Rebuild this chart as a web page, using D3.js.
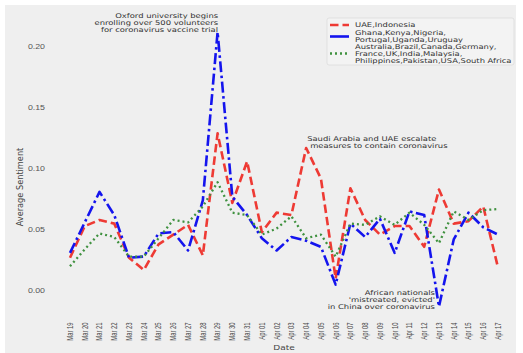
<!DOCTYPE html>
<html>
<head>
<meta charset="utf-8">
<script src="https://cdn.jsdelivr.net/npm/d3@7"></script>
<style>
  html, body { margin: 0; padding: 0; background: #ffffff; }
  svg { display: block; font-family: "DejaVu Sans", sans-serif; }
</style>
</head>
<body>
<svg id="chart" width="523" height="353"></svg>
<script>
// Daily average sentiment per country group, 19 March – 17 April
const dates = [
  "Mar 19","Mar 20","Mar 21","Mar 22","Mar 23","Mar 24","Mar 25","Mar 26","Mar 27","Mar 28",
  "Mar 29","Mar 30","Mar 31","Apr 01","Apr 02","Apr 03","Apr 04","Apr 05","Apr 06","Apr 07",
  "Apr 08","Apr 09","Apr 10","Apr 11","Apr 12","Apr 13","Apr 14","Apr 15","Apr 16","Apr 17"
];

const uaeIndonesia = [
  0.026, 0.052, 0.057, 0.054, 0.026, 0.016, 0.037, 0.045, 0.053, 0.028,
  0.128, 0.071, 0.105, 0.047, 0.063, 0.061, 0.116, 0.091, 0.009, 0.083,
  0.057, 0.045, 0.052, 0.052, 0.035, 0.082, 0.054, 0.056, 0.068, 0.018
];

const ghanaGroup = [
  0.030, 0.055, 0.080, 0.061, 0.026, 0.027, 0.046, 0.047, 0.032, 0.073,
  0.211, 0.076, 0.061, 0.042, 0.032, 0.043, 0.040, 0.035, 0.004, 0.054,
  0.043, 0.058, 0.030, 0.064, 0.061, -0.014, 0.041, 0.063, 0.051, 0.045
];

const australiaGroup = [
  0.019, 0.033, 0.046, 0.043, 0.027, 0.027, 0.042, 0.057, 0.055, 0.068,
  0.088, 0.063, 0.061, 0.045, 0.050, 0.060, 0.042, 0.045, 0.027, 0.054,
  0.053, 0.060, 0.053, 0.063, 0.053, 0.038, 0.064, 0.057, 0.065, 0.066
];

const yTicks = [0.00, 0.05, 0.10, 0.15, 0.20];

const seriesNames = [
  ["UAE,Indonesia"],
  ["Ghana,Kenya,Nigeria,", "Portugal,Uganda,Uruguay"],
  ["Australia,Brazil,Canada,Germany,", "France,UK,India,Malaysia,", "Philippines,Pakistan,USA,South Africa"]
];

const annotations = [
  { date: "Mar 29", lines: ["Oxford university begins", "enrolling over 500 volunteers", "for coronavirus vaccine trial"] },
  { date: "Apr 04", lines: ["Saudi Arabia and UAE escalate", "measures to contain coronavirus"] },
  { date: "Apr 13", lines: ["African nationals", "'mistreated, evicted'", "in China over coronavirus"] }
];

const series = [
  { values: uaeIndonesia,   color: "#ee3a34", width: 2.6, dash: "8.5,4" },
  { values: ghanaGroup,     color: "#1414ee", width: 2.6, dash: "11,3.5,2.5,3.5" },
  { values: australiaGroup, color: "#3f913f", width: 2.3, dash: "2,3" }
];

const svg = d3.select("#chart");
const squash = 0.78;   // vertical compression of the figure's lettering
const textColor = "#333333";

// figure background
svg.append("rect").attr("x", 5).attr("y", 5).attr("width", 511).attr("height", 348)
  .attr("fill", "#efefef");

const x = d3.scalePoint().domain(dates).range([70, 498]);
const y = d3.scaleLinear().domain([0, 0.2]).range([289.5, 45.5]);

// text helper: horizontal or rotated, with the figure's vertical compression
function label(g, px, py, str, opts) {
  const o = Object.assign({ size: 8.4, anchor: "start", rotate: false, k: squash, fill: textColor }, opts);
  return g.append("text")
    .attr("transform", `translate(${px},${py}) scale(1,${o.k})` + (o.rotate ? " rotate(-90)" : ""))
    .attr("text-anchor", o.anchor)
    .attr("font-size", o.size)
    .attr("fill", o.fill)
    .text(str);
}

// y axis
const yAxis = svg.append("g").attr("transform", "translate(47,0)")
  .call(d3.axisLeft(y).tickValues(yTicks).tickFormat(d3.format(".2f")).tickSize(0).tickPadding(0));
yAxis.select(".domain").remove();
yAxis.selectAll(".tick text").remove();
yAxis.selectAll(".tick").each(function (d) {
  label(d3.select(this), -2, 2.5, d3.format(".2f")(d), { size: 8.8, anchor: "end", fill: "#555555" });
});

// x axis
const xAxis = svg.append("g").attr("transform", "translate(0,320)")
  .call(d3.axisBottom(x).tickSize(0).tickPadding(0));
xAxis.select(".domain").remove();
xAxis.selectAll(".tick text").remove();
xAxis.selectAll(".tick").each(function (d) {
  label(d3.select(this), 2.4, 2.5, d, { size: 8.6, anchor: "end", rotate: true, k: 0.68, fill: "#4a4a4a" });
});

// axis titles
label(svg, 284, 350, "Date", { size: 9, anchor: "middle", fill: "#444444" });
label(svg, 23, 187, "Average Sentiment", { size: 8.2, anchor: "middle", rotate: true, k: 1, fill: "#444444" });

// lines
const line = d3.line().x((d, i) => x(dates[i])).y(d => y(d));
series.forEach(s => {
  svg.append("path").datum(s.values)
    .attr("d", line)
    .attr("fill", "none")
    .attr("stroke", s.color)
    .attr("stroke-width", s.width)
    .attr("stroke-dasharray", s.dash)
    .attr("stroke-linejoin", "round");
});

// event annotations
const ann = svg.append("g");
const a0 = annotations[0];
a0.lines.forEach((t, i) => label(ann, x(a0.date) + 0.5, 17.5 + i * 7.3, t, { anchor: "end" }));
const a1 = annotations[1];
a1.lines.forEach((t, i) => label(ann, x(a1.date) + 1 + i * 3, 140.7 + i * 6.8, t, { anchor: "start" }));
const a2 = annotations[2];
a2.lines.forEach((t, i) => label(ann, x(a2.date) - 4, 295.2 + i * 6.7, t, { anchor: "end" }));

// legend
const lg = svg.append("g");
lg.append("rect").attr("x", 327).attr("y", 18).attr("width", 187).attr("height", 47)
  .attr("rx", 2).attr("fill", "#f3f3f3").attr("stroke", "#dcdcdc").attr("stroke-width", 0.8);
const legendRows = [
  { sampleY: 25,   textY: [27.2] },
  { sampleY: 36.5, textY: [35.2, 41.7] },
  { sampleY: 53.5, textY: [49.2, 55.9, 62.6] }
];
series.forEach((s, i) => {
  const r = legendRows[i];
  lg.append("line").attr("x1", 330).attr("x2", 349)
    .attr("y1", r.sampleY).attr("y2", r.sampleY)
    .attr("stroke", s.color).attr("stroke-width", s.width)
    .attr("stroke-dasharray", i === 1 ? null : s.dash);
  seriesNames[i].forEach((t, j) => label(lg, 355, r.textY[j], t, {}));
});
</script>
</body>
</html>
